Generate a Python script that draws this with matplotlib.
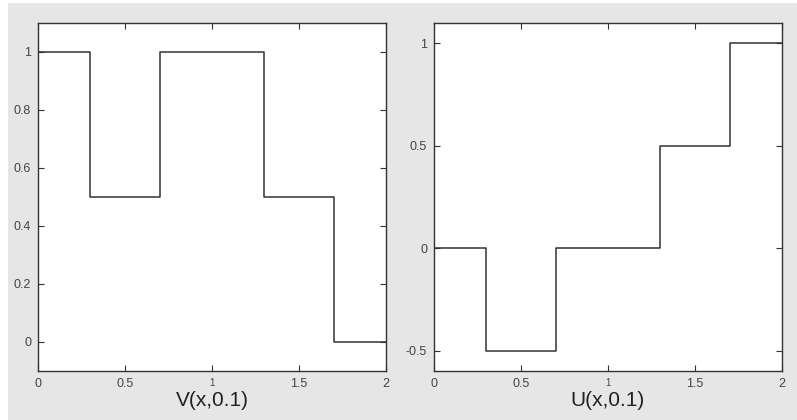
import matplotlib.pyplot as plt
from matplotlib.patches import Rectangle

# step breakpoints along x and the level on each interval
edges = [0, 0.3, 0.7, 1.3, 1.7, 2]
v_levels = [1, 0.5, 1, 0.5, 0]
u_levels = [0, -0.5, 0, 0.5, 1]

v_ticks = [0, 0.2, 0.4, 0.6, 0.8, 1]
u_ticks = [-0.5, 0, 0.5, 1]
x_ticks = [0, 0.5, 1, 1.5, 2]

plt.rcParams['font.family'] = ['Liberation Sans', 'DejaVu Sans']

fig = plt.figure(figsize=(7.97, 4.2), dpi=100, facecolor='white')
# grey panel behind the plots (a thin white strip remains top and left)
fig.patches.append(Rectangle((8 / 797, 0), 1, 1 - 3 / 420, transform=fig.transFigure,
                             facecolor='#e6e6e6', edgecolor='none', zorder=-1))

ax1 = fig.add_axes([38 / 797, 49 / 420, 348 / 797, 348 / 420])
ax2 = fig.add_axes([434 / 797, 49 / 420, 348 / 797, 348 / 420])


def step_line(ax, levels):
    ys = levels + [levels[-1]]
    ax.step(edges, ys, where='post', color='#333333', linewidth=1.1)


step_line(ax1, v_levels)
step_line(ax2, u_levels)

ax1.set_ylim(-0.1, 1.1)
ax2.set_ylim(-0.6, 1.1)
ax1.set_yticks(v_ticks)
ax1.set_yticklabels(['0', '0.2', '0.4', '0.6', '0.8', '1'])
ax2.set_yticks(u_ticks)
ax2.set_yticklabels(['-0.5', '0', '0.5', '1'])

for ax, name in [(ax1, 'V(x,0.1)'), (ax2, 'U(x,0.1)')]:
    ax.set_xlim(0, 2)
    ax.set_xticks(x_ticks)
    ax.set_xticklabels(['0', '0.5', '1', '1.5', '2'])
    ax.tick_params(direction='in', top=True, right=True, length=4, width=0.8,
                   labelsize=9, labelcolor='#444444', color='#333333', pad=5)
    # the middle "1" is drawn smaller in the original
    ax.get_xticklabels()[2].set_fontsize(7)
    for s in ax.spines.values():
        s.set_color('#333333')
        s.set_linewidth(1.0)
    ax.set_xlabel(name, fontsize=15, color='#222222', labelpad=1)

fig.savefig('out.png', dpi=100, facecolor=fig.get_facecolor())
